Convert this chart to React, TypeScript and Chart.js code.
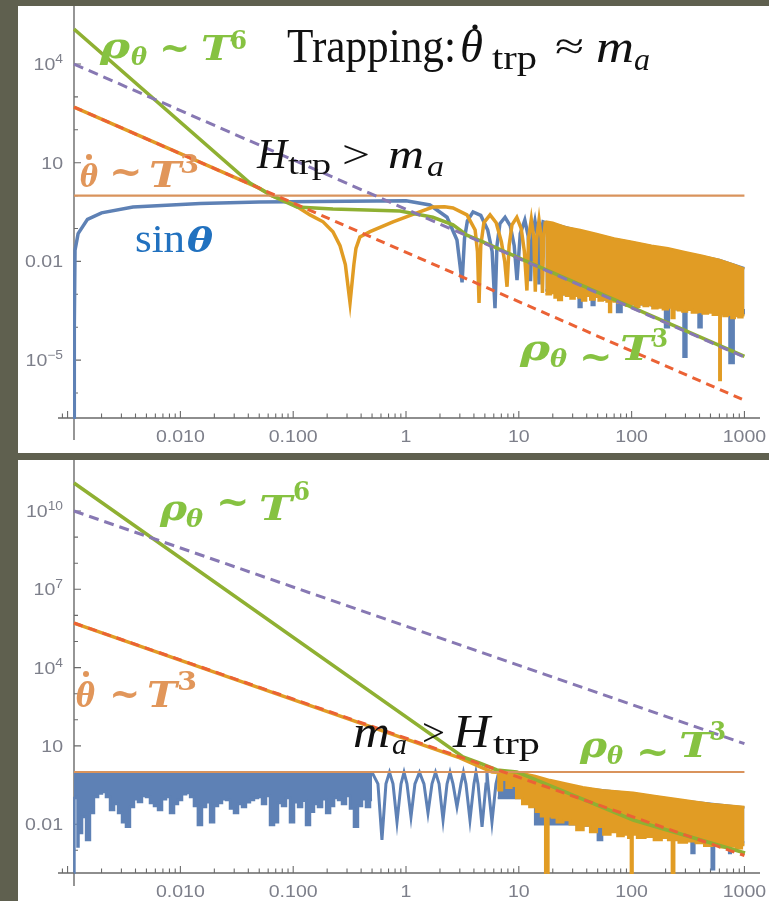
import React, { useEffect, useRef } from "react";
import { Chart, registerables } from "chart.js";

Chart.register(...registerables);

type Pt = [number, number];

// ================= axis ticks =================
const xTickValues = [0.01, 0.1, 1, 10, 100, 1000];
const xTickLabels = ["0.010", "0.100", "1", "10", "100", "1000"];

const topYTickValues = [1e4, 10, 0.01, 1e-5];
const topYTickBases = ["10", "10", "0.01", "10"];
const topYTickExps = ["4", "", "", "\u22125"];

const botYTickValues = [1e10, 1e7, 1e4, 10, 0.01];
const botYTickBases = ["10", "10", "10", "10", "0.01"];
const botYTickExps = ["10", "7", "4", "", ""];

// ================= TOP PANEL (H_trp > m_a) =================
const topUnity: Pt[] = [[0.00114, 1], [1000, 1]];
const topPurpleDashed: Pt[] = [[0.00114, 1.0e4], [1000, 1.23e-5]];
const topRedDashed: Pt[] = [[0.00114, 490], [1000, 6.0e-7]];
const topRho: Pt[] = [
  [0.00114, 1.15e5], [0.0414, 2.4], [0.0646, 1.0], [0.108, 0.45], [0.225, 0.39], [0.885, 0.34],
  [1.73, 0.22], [2.61, 0.13], [3.47, 0.063], [4.81, 0.039], [10, 0.0128], [100, 4.1e-4], [1000, 1.3e-5],
];
const topSinTheta: Pt[] = [
  [0.00114, 1.5e-7], [0.001147, 1e-4], [0.001164, 0.022], [0.00124, 0.07], [0.0015, 0.19], [0.002, 0.3],
  [0.0038, 0.45], [0.015, 0.58], [0.05, 0.64], [0.3, 0.68], [1.0, 0.7], [1.63, 0.52], [2.31, 0.22],
  [2.83, 0.045], [3.14, 0.0023], [3.3, 0.05], [3.5, 0.17], [3.93, 0.32], [4.6, 0.25], [5.3, 0.09],
  [5.8, 0.02], [6.15, 3.8e-4], [6.4, 0.03], [6.8, 0.14], [7.55, 0.22], [8.4, 0.12], [9.1, 0.03],
  [9.64, 2.7e-3], [10.3, 0.07], [11.3, 0.18], [12.1, 0.06], [12.7, 2.5e-3], [13.1, 0.06], [13.9, 0.17],
  [14.6, 0.06], [15.1, 2e-3], [15.6, 0.06], [16.4, 0.16], [17.2, 0.15],
];
const topSinBandUpper: Pt[] = [
  [17.2, 0.15], [20, 0.14], [35, 0.085], [70, 0.048], [150, 0.029], [300, 0.018], [600, 0.011], [1000, 0.0062],
];
const topSinBandLower: Pt[] = [
  [17.2, 1.3e-3], [20, 1.2e-3], [30, 1.0e-3], [33, 1e-3], [34.9, 4.1e-4], [37, 1e-3], [43, 9e-4],
  [45.6, 4.7e-4], [48, 9e-4], [70, 7e-4], [78.9, 2.9e-4], [84, 7e-4], [120, 5e-4], [190, 4.5e-4],
  [206, 1e-4], [222, 4.5e-4], [280, 3.5e-4], [297, 1.26e-5], [315, 3.5e-4], [380, 3e-4], [404, 1e-4],
  [430, 3e-4], [700, 2.5e-4], [776, 8.2e-6], [830, 2.5e-4], [940, 2.5e-4], [972, 3.3e-4], [1000, 2.5e-4],
];
const topThetaDot: Pt[] = [
  [0.00114, 490], [0.05, 1.69], [0.0646, 1.0], [0.1, 0.55], [0.141, 0.26], [0.184, 0.16], [0.225, 0.08],
  [0.26, 0.03], [0.29, 0.008], [0.319, 5.5e-4], [0.345, 0.008], [0.36, 0.025], [0.39, 0.055], [0.48, 0.08],
  [0.767, 0.16], [1.25, 0.3], [1.73, 0.45], [2.2, 0.46], [2.61, 0.42], [3.47, 0.26], [4.1, 0.09],
  [4.3, 0.02], [4.44, 5.5e-4], [4.6, 0.03], [4.9, 0.15], [5.56, 0.26], [6.3, 0.15], [7.0, 0.04],
  [7.5, 0.01], [7.86, 1.7e-3], [8.2, 0.03], [8.7, 0.13], [9.6, 0.22], [10.5, 0.1], [11.2, 0.02],
  [11.8, 1.3e-3], [12.2, 0.05], [12.9, 0.19], [13.6, 0.05], [14.0, 1.2e-3], [14.4, 0.05], [15.1, 0.18],
  [15.8, 0.05], [16.2, 1.1e-3], [16.6, 0.05], [17.2, 0.165],
];
const topDotBandUpper: Pt[] = [
  [17.2, 0.165], [20, 0.15], [26, 0.11], [35, 0.09], [48, 0.07], [70, 0.05], [100, 0.04],
  [150, 0.03], [210, 0.025], [300, 0.019], [420, 0.015], [600, 0.011], [800, 0.008], [1000, 0.0059],
];
const topDotBandLower: Pt[] = [
  [17.2, 1.0e-3], [18.5, 1.0e-3], [20, 1.1e-3], [21.5, 8e-4],
  [23.2, 6.7e-4], [25, 1.0e-3], [27.5, 9e-4], [30, 7.5e-4], [32.5, 9e-4], [35, 8e-4], [38, 6.5e-4],
  [41, 9e-4], [45, 7e-4], [49, 8.5e-4], [53, 6.5e-4], [58, 7e-4], [62, 6e-4], [64.4, 2.9e-4],
  [67, 6.5e-4], [72, 6e-4], [79, 5.5e-4], [86, 6e-4], [94, 4.5e-4], [103, 5e-4], [112, 4.2e-4],
  [122, 5e-4], [134, 4.4e-4], [146, 4.7e-4], [160, 3.8e-4], [179, 4e-4], [200, 3.5e-4], [220, 4e-4],
  [233, 1.9e-4], [246, 3.6e-4], [269, 3.3e-4], [295, 3.0e-4], [325, 3.4e-4], [360, 2.8e-4],
  [404, 2.9e-4], [450, 2.6e-4], [500, 2.8e-4], [550, 2.4e-4], [590, 2.6e-4], [608, 2.5e-6],
  [625, 2.5e-4], [680, 2.2e-4], [740, 2.4e-4], [793, 1.9e-4], [850, 2.2e-4], [920, 2.0e-4], [1000, 2.3e-4],
];

// ================= BOTTOM PANEL (m_a > H_trp) =================
const botUnity: Pt[] = [[0.00114, 1], [1000, 1]];
const botPurpleDashed: Pt[] = [[0.00114, 1.0e10], [1000, 12.2]];
const botRedDashed: Pt[] = [[0.00114, 5.1e5], [1000, 6.3e-4]];
const botRho: Pt[] = [
  [0.00114, 1.18e11], [3.2, 3.76], [4.53, 2.2], [6.4, 1.2], [9.6, 1.0], [103, 0.0145], [1012, 7.9e-4],
];
const botSinBandUpper: Pt[] = [[0.00114, 0.97], [0.5, 0.97]];
const botSinBandLower: Pt[] = [
  [0.00114, 1.4e-4], [0.00116, 0.1], [0.00121, 0.11], [0.00124, 0.0014], [0.00126, 0.03],
  [0.00129, 0.0046], [0.0014, 0.019], [0.00152, 0.0025], [0.00164, 0.027], [0.00179, 0.11],
  [0.00194, 0.15], [0.0021, 0.17], [0.00228, 0.11], [0.00248, 0.035], [0.00269, 0.06], [0.00292, 0.027],
  [0.00316, 0.012], [0.00343, 0.0079], [0.00372, 0.046], [0.00404, 0.09], [0.00438, 0.071],
  [0.00476, 0.12], [0.00516, 0.11], [0.0056, 0.065], [0.00608, 0.05], [0.0066, 0.035], [0.00716, 0.09],
  [0.00777, 0.11], [0.00843, 0.027], [0.00915, 0.06], [0.0099, 0.085], [0.0108, 0.14], [0.0117, 0.158],
  [0.0127, 0.11], [0.0137, 0.05], [0.0149, 0.0093], [0.0162, 0.046], [0.0176, 0.07], [0.0191, 0.012],
  [0.0207, 0.05], [0.0224, 0.065], [0.0244, 0.09], [0.0264, 0.085], [0.0287, 0.04], [0.0311, 0.027],
  [0.0338, 0.06], [0.0366, 0.046], [0.0397, 0.07], [0.0431, 0.085], [0.0468, 0.1], [0.0508, 0.11],
  [0.0551, 0.06], [0.0598, 0.12], [0.0649, 0.0093], [0.0704, 0.012], [0.0764, 0.065], [0.0829, 0.05],
  [0.0899, 0.1], [0.0976, 0.012], [0.106, 0.07], [0.115, 0.046], [0.125, 0.08], [0.135, 0.0093],
  [0.147, 0.03], [0.159, 0.06], [0.173, 0.046], [0.188, 0.09], [0.204, 0.027], [0.221, 0.05],
  [0.24, 0.1], [0.26, 0.085], [0.282, 0.06], [0.306, 0.12], [0.332, 0.04], [0.36, 0.0079],
  [0.391, 0.05], [0.424, 0.09], [0.46, 0.046], [0.5, 0.085],
];
const botSinCusps: Pt[] = [
  [0.5, 0.97], [0.564, 0.35], [0.612, 0.0025], [0.664, 0.35], [0.714, 0.97], [0.767, 0.35], [0.832, 0.012],
  [0.903, 0.35], [0.96, 0.97], [1.02, 0.35], [1.107, 0.019], [1.2, 0.35], [1.317, 0.97], [1.443, 0.35],
  [1.566, 0.027], [1.7, 0.35], [1.826, 0.97], [1.963, 0.35], [2.13, 0.0145], [2.31, 0.35], [2.455, 0.97],
  [2.61, 0.35], [2.83, 0.046], [3.07, 0.35], [3.23, 0.97], [3.4, 0.35], [3.69, 0.0145], [4.0, 0.35],
  [4.17, 0.97], [4.35, 0.35], [4.72, 0.0079], [5.12, 0.35], [5.22, 0.97], [5.33, 0.35], [5.78, 0.012],
  [6.27, 0.35], [6.6, 0.9],
];
const botSinRightUpper: Pt[] = [
  [6.5, 0.95], [10, 0.9], [18.9, 0.45], [37, 0.24], [103, 0.15], [285, 0.08], [1000, 0.044],
];
const botSinRightLower: Pt[] = [
  [6.5, 0.1], [30, 0.01], [48, 0.009], [52.5, 0.0025], [57, 0.009], [150, 0.005], [330, 0.003],
  [350, 7.9e-4], [370, 0.003], [500, 0.0025], [526, 1.9e-4], [550, 0.0025], [720, 0.002], [745, 7.9e-4],
  [770, 0.002], [1000, 0.002],
];
const botThetaDot: Pt[] = [[0.00114, 5.1e5], [3.0, 3.5], [4.5, 1.6], [5.8, 1.0], [6.4, 0.97]];
const botDotBandUpper: Pt[] = [
  [6.4, 0.97], [10, 0.95], [14, 0.7], [18.9, 0.49], [26, 0.36], [37, 0.26], [55, 0.2], [103, 0.16],
  [160, 0.12], [285, 0.085], [500, 0.06], [1000, 0.046],
];
const botDotBandLower: Pt[] = [
  [6.4, 0.9], [6.8, 0.2], [7.4, 0.5], [8.2, 0.25], [9, 0.3], [10, 0.1], [11.5, 0.06], [13.4, 0.046],
  [15, 0.03], [16.5, 0.02], [17.8, 1e-4], [18.8, 0.02], [20.5, 0.018], [23, 0.012], [26.7, 0.0145],
  [30, 0.01], [35, 0.006], [40, 0.009], [46, 0.005], [52.5, 0.0079], [60, 0.004], [70, 0.005],
  [80, 0.0035], [90, 0.004], [97, 0.003], [100, 1e-4], [104, 0.004], [120, 0.003], [146, 0.0033],
  [170, 0.0025], [200, 0.003], [222, 0.0025], [233, 1e-4], [244, 0.0025], [280, 0.002], [340, 0.0022],
  [404, 0.0019], [480, 0.0015], [560, 0.0018], [660, 0.0013], [793, 0.0014], [900, 0.0012], [1000, 0.0016],
];

// ================= styles =================
const BLUE = "#5e81b5";
const GOLD = "#e19c24";
const GREEN = "#8fb032";
const RED = "#eb6235";
const PURPLE = "#8778b3";
const UNITY = "#d9935c";
const AXIS = "#6a6a6a";
const TICKLABEL = "#7d7f8a";
const T_GREEN = "#86c241";
const T_ORANGE = "#e1965a";
const T_BLUE = "#2171bf";
const T_BLACK = "#111111";
const SERIF = '"Liberation Serif", "DejaVu Serif", serif';
const MATHB = '"DejaVu Serif", "Liberation Serif", serif';
const SANS = '"Liberation Sans", Arial, sans-serif';
const TILDE = "~";

type Run = { t: string; f: string; s: number; x: number; b: number; w: number; c: string; cy?: number; h?: number };
type Dot = { x: number; y: number; r: number; c: string };

const topTexts: Run[] = [
  { t: "\u03c1", f: "BI", s: 36, x: 100, b: 58, w: 30, c: T_GREEN },
  { t: "\u03b8", f: "BI", s: 24, x: 131, b: 65, w: 16, c: T_GREEN },
  { t: TILDE, f: "RB", s: 40, x: 163, b: 0, w: 24, c: T_GREEN, cy: 48, h: 9 },
  { t: "T", f: "BI", s: 34, x: 201, b: 60, w: 31, c: T_GREEN },
  { t: "6", f: "B", s: 26, x: 230, b: 49, w: 17, c: T_GREEN },

  { t: "Trapping:", f: "R", s: 48, x: 287, b: 62, w: 169, c: T_BLACK },
  { t: "\u03b8", f: "I", s: 46, x: 460, b: 62, w: 23, c: T_BLACK },
  { t: "trp", f: "R", s: 34, x: 492, b: 69, w: 45, c: T_BLACK },
  { t: "\u2248", f: "R", s: 38, x: 555, b: 59, w: 29, c: T_BLACK },
  { t: "m", f: "I", s: 46, x: 596, b: 62, w: 38, c: T_BLACK },
  { t: "a", f: "I", s: 32, x: 634, b: 70, w: 16, c: T_BLACK },

  { t: "H", f: "I", s: 42, x: 257, b: 168, w: 30, c: T_BLACK },
  { t: "trp", f: "R", s: 30, x: 288, b: 174, w: 43, c: T_BLACK },
  { t: ">", f: "R", s: 40, x: 342, b: 168, w: 28, c: T_BLACK },
  { t: "m", f: "I", s: 42, x: 388, b: 168, w: 36, c: T_BLACK },
  { t: "a", f: "I", s: 30, x: 427, b: 176, w: 17, c: T_BLACK },

  { t: "\u03b8", f: "BI", s: 32, x: 80, b: 187, w: 18, c: T_ORANGE },
  { t: TILDE, f: "RB", s: 40, x: 113, b: 0, w: 26, c: T_ORANGE, cy: 172, h: 9 },
  { t: "T", f: "BI", s: 36, x: 149, b: 187, w: 32, c: T_ORANGE },
  { t: "3", f: "B", s: 26, x: 180, b: 173, w: 19, c: T_ORANGE },

  { t: "sin", f: "R", s: 40, x: 135, b: 252, w: 50, c: T_BLUE },
  { t: "\u03b8", f: "BI", s: 34, x: 187, b: 252, w: 26, c: T_BLUE },

  { t: "\u03c1", f: "BI", s: 36, x: 520, b: 360, w: 30, c: T_GREEN },
  { t: "\u03b8", f: "BI", s: 24, x: 550, b: 367, w: 17, c: T_GREEN },
  { t: TILDE, f: "RB", s: 40, x: 583, b: 0, w: 26, c: T_GREEN, cy: 357, h: 9 },
  { t: "T", f: "BI", s: 34, x: 620, b: 360, w: 33, c: T_GREEN },
  { t: "3", f: "B", s: 26, x: 652, b: 347, w: 16, c: T_GREEN },
];
const topDots: Dot[] = [
  { x: 475, y: 27, r: 2.6, c: T_BLACK },
  { x: 89, y: 157, r: 3, c: T_ORANGE },
];

const botTexts: Run[] = [
  { t: "\u03c1", f: "BI", s: 36, x: 160, b: 520, w: 27, c: T_GREEN },
  { t: "\u03b8", f: "BI", s: 24, x: 186, b: 527, w: 17, c: T_GREEN },
  { t: TILDE, f: "RB", s: 40, x: 220, b: 0, w: 26, c: T_GREEN, cy: 502, h: 9 },
  { t: "T", f: "BI", s: 34, x: 259, b: 520, w: 33, c: T_GREEN },
  { t: "6", f: "B", s: 26, x: 293, b: 500, w: 17, c: T_GREEN },

  { t: "\u03b8", f: "BI", s: 34, x: 76, b: 707, w: 19, c: T_ORANGE },
  { t: TILDE, f: "RB", s: 40, x: 113, b: 0, w: 24, c: T_ORANGE, cy: 694, h: 9 },
  { t: "T", f: "BI", s: 36, x: 147, b: 707, w: 30, c: T_ORANGE },
  { t: "3", f: "B", s: 26, x: 177, b: 690, w: 20, c: T_ORANGE },

  { t: "m", f: "I", s: 46, x: 353, b: 747, w: 37, c: T_BLACK },
  { t: "a", f: "I", s: 30, x: 392, b: 754, w: 15, c: T_BLACK },
  { t: ">", f: "R", s: 40, x: 422, b: 746, w: 23, c: T_BLACK },
  { t: "H", f: "I", s: 46, x: 453, b: 747, w: 37, c: T_BLACK },
  { t: "trp", f: "R", s: 32, x: 493, b: 754, w: 47, c: T_BLACK },

  { t: "\u03c1", f: "BI", s: 36, x: 580, b: 757, w: 27, c: T_GREEN },
  { t: "\u03b8", f: "BI", s: 24, x: 607, b: 764, w: 16, c: T_GREEN },
  { t: TILDE, f: "RB", s: 40, x: 640, b: 0, w: 26, c: T_GREEN, cy: 752, h: 9 },
  { t: "T", f: "BI", s: 34, x: 679, b: 757, w: 33, c: T_GREEN },
  { t: "3", f: "B", s: 26, x: 710, b: 740, w: 16, c: T_GREEN },
];
const botDots: Dot[] = [{ x: 86, y: 674, r: 3, c: T_ORANGE }];

function fontFor(f: string, s: number) {
  if (f === "BI") return `italic bold ${s}px ${MATHB}`;
  if (f === "B") return `bold ${s}px ${MATHB}`;
  if (f === "RB") return `bold ${s}px ${MATHB}`;
  if (f === "I") return `italic ${s}px ${SERIF}`;
  return `${s}px ${SERIF}`;
}

const pts = (d: Pt[]) => d.map(([x, y]) => ({ x, y }));

function ds(data: Pt[], color: string, width: number, order: number, extra: any = {}) {
  return {
    data: pts(data),
    borderColor: color,
    backgroundColor: color,
    borderWidth: width,
    pointRadius: 0,
    tension: 0,
    fill: false,
    order,
    clip: 1,
    ...extra,
  };
}

interface PanelCfg {
  offX: number;
  offY: number;
  w: number;
  h: number;
  pad: { left: number; right: number; top: number; bottom: number };
  yMin: number;
  yMax: number;
  axisX: [number, number];
  axisY: [number, number];
  yTicks: number[];
  yBases: string[];
  yExps: string[];
  texts: Run[];
  dots: Dot[];
  datasets: any[];
}

const xMin = 0.00114;
const xMax = 1167;

const topCfg: PanelCfg = {
  offX: 18, offY: 6, w: 751, h: 447,
  pad: { left: 56, right: 17, top: 0, bottom: 35 },
  yMin: 1.74e-7, yMax: 5.8e5,
  axisX: [40, 742], axisY: [0, 434],
  yTicks: topYTickValues, yBases: topYTickBases, yExps: topYTickExps,
  texts: topTexts, dots: topDots,
  datasets: [
    ds(topSinBandUpper, BLUE, 2.5, 9),
    ds(topSinBandLower, BLUE, 2.5, 9, { fill: "-1", stepped: "middle" }),
    ds(topSinTheta, BLUE, 3.5, 8),
    ds(topDotBandUpper, GOLD, 2.5, 7),
    ds(topDotBandLower, GOLD, 2.5, 7, { fill: "-1", stepped: "middle" }),
    ds(topThetaDot, GOLD, 3.5, 6),
    ds(topRho, GREEN, 3.5, 5),
    ds(topUnity, UNITY, 2.2, 4),
    ds(topPurpleDashed, PURPLE, 3, 3, { borderDash: [10, 6] }),
    ds(topRedDashed, RED, 3, 2, { borderDash: [9, 6] }),
  ],
};

const botCfg: PanelCfg = {
  offX: 18, offY: 460, w: 751, h: 441,
  pad: { left: 56, right: 17, top: 0, bottom: 28 },
  yMin: 1.35e-4, yMax: 9.0e11,
  axisX: [40, 742], axisY: [0, 426],
  yTicks: botYTickValues, yBases: botYTickBases, yExps: botYTickExps,
  texts: botTexts, dots: botDots,
  datasets: [
    ds(botSinBandUpper, BLUE, 2.5, 9),
    ds(botSinBandLower, BLUE, 2.5, 9, { fill: "-1", stepped: "middle" }),
    ds(botSinCusps, BLUE, 3, 8),
    ds(botSinRightUpper, BLUE, 2.5, 9),
    ds(botSinRightLower, BLUE, 2.5, 9, { fill: "-1", stepped: "middle" }),
    ds(botDotBandUpper, GOLD, 2.5, 7),
    ds(botDotBandLower, GOLD, 2.5, 7, { fill: "-1", stepped: "middle" }),
    ds(botThetaDot, GOLD, 3.5, 6),
    ds(botRho, GREEN, 3.5, 5),
    ds(botUnity, UNITY, 2.2, 4),
    ds(botPurpleDashed, PURPLE, 3, 3, { borderDash: [10, 6] }),
    ds(botRedDashed, RED, 3, 2, { borderDash: [9, 6] }),
  ],
};

function drawAxes(chart: any, cfg: PanelCfg) {
  const { ctx, chartArea: a, scales } = chart;
  const xs = scales.x;
  const ys = scales.y;
  const y0 = a.bottom;
  const x0 = a.left;
  ctx.save();
  ctx.strokeStyle = AXIS;
  ctx.lineWidth = 1.4;
  ctx.beginPath();
  ctx.moveTo(cfg.axisX[0], y0);
  ctx.lineTo(cfg.axisX[1], y0);
  ctx.moveTo(x0, cfg.axisY[0]);
  ctx.lineTo(x0, cfg.axisY[1]);
  ctx.stroke();

  ctx.lineWidth = 1.1;
  ctx.beginPath();
  for (let e = -4; e <= 3; e++) {
    for (let m = 1; m <= 9; m++) {
      const v = m * Math.pow(10, e);
      const px = xs.getPixelForValue(v);
      if (px < cfg.axisX[0] + 2 || px > cfg.axisX[1] - 2) continue;
      const len = m === 1 ? 7 : 4.5;
      ctx.moveTo(px, y0);
      ctx.lineTo(px, y0 - len);
    }
  }
  const eLo = Math.ceil(Math.log10(cfg.yMin));
  const eHi = Math.floor(Math.log10(cfg.yMax));
  for (let e = eLo; e <= eHi; e++) {
    const v = Math.pow(10, e);
    const py = ys.getPixelForValue(v);
    if (py < cfg.axisY[0] + 2 || py > y0 - 2) continue;
    const labeled = cfg.yTicks.some((t) => Math.abs(Math.log10(t) - e) < 1e-6);
    ctx.moveTo(x0, py);
    ctx.lineTo(x0 + (labeled ? 7 : 4), py);
  }
  ctx.stroke();

  // tick labels
  ctx.fillStyle = TICKLABEL;
  ctx.textBaseline = "alphabetic";
  const sx = 1.15;
  xTickValues.forEach((v, i) => {
    const px = xs.getPixelForValue(v);
    ctx.save();
    ctx.translate(px, y0 + 24);
    ctx.scale(sx, 1);
    ctx.font = `17px ${SANS}`;
    ctx.textAlign = "center";
    ctx.fillText(xTickLabels[i], 0, 0);
    ctx.restore();
  });
  const right = x0 - 11;
  cfg.yTicks.forEach((v, i) => {
    const py = ys.getPixelForValue(v);
    const base = cfg.yBases[i];
    const exp = cfg.yExps[i];
    ctx.font = `17px ${SANS}`;
    const wb = ctx.measureText(base).width * sx;
    ctx.font = `12px ${SANS}`;
    const we = exp ? ctx.measureText(exp).width * sx : 0;
    const left = right - wb - we;
    ctx.save();
    ctx.translate(left, py + 6);
    ctx.scale(sx, 1);
    ctx.font = `17px ${SANS}`;
    ctx.textAlign = "left";
    ctx.fillText(base, 0, 0);
    ctx.restore();
    if (exp) {
      ctx.save();
      ctx.translate(left + wb, py - 1);
      ctx.scale(sx, 1);
      ctx.font = `12px ${SANS}`;
      ctx.textAlign = "left";
      ctx.fillText(exp, 0, 0);
      ctx.restore();
    }
  });
  ctx.restore();
}

function drawTexts(chart: any, cfg: PanelCfg) {
  const ctx = chart.ctx;
  ctx.save();
  ctx.textAlign = "left";
  ctx.textBaseline = "alphabetic";
  for (const r of cfg.texts) {
    ctx.font = fontFor(r.f, r.s);
    ctx.fillStyle = r.c;
    if (r.cy !== undefined && r.h !== undefined) {
      // glyph fitted into a box (width w, height h) centred on cy
      const mm = ctx.measureText(r.t);
      const asc = mm.actualBoundingBoxAscent;
      const desc = mm.actualBoundingBoxDescent;
      const left = mm.actualBoundingBoxLeft;
      const inkW = mm.actualBoundingBoxRight + left;
      const inkH = asc + desc;
      const sx = inkW > 0 ? r.w / inkW : 1;
      const sy = inkH > 0 ? r.h / inkH : 1;
      ctx.save();
      ctx.translate(r.x - cfg.offX, r.cy - cfg.offY);
      ctx.scale(sx, sy);
      ctx.fillText(r.t, left, (asc - desc) / 2);
      ctx.restore();
      continue;
    }
    const m = ctx.measureText(r.t).width;
    const sx = m > 0 ? r.w / m : 1;
    ctx.save();
    ctx.translate(r.x - cfg.offX, r.b - cfg.offY);
    ctx.scale(sx, 1);
    ctx.fillText(r.t, 0, 0);
    ctx.restore();
  }
  for (const d of cfg.dots) {
    ctx.beginPath();
    ctx.fillStyle = d.c;
    ctx.arc(d.x - cfg.offX, d.y - cfg.offY, d.r, 0, Math.PI * 2);
    ctx.fill();
  }
  ctx.restore();
}

function Panel({ cfg }: { cfg: PanelCfg }) {
  const ref = useRef<HTMLCanvasElement | null>(null);
  useEffect(() => {
    if (!ref.current) return;
    const chart = new Chart(ref.current, {
      type: "line",
      data: { datasets: cfg.datasets },
      options: {
        animation: false,
        responsive: false,
        devicePixelRatio: 1,
        events: [],
        layout: { padding: cfg.pad },
        plugins: { legend: { display: false }, tooltip: { enabled: false }, title: { display: false } },
        scales: {
          x: { type: "logarithmic", min: xMin, max: xMax, display: false, bounds: "data" },
          y: { type: "logarithmic", min: cfg.yMin, max: cfg.yMax, display: false, bounds: "data" },
        },
      } as any,
      plugins: [
        {
          id: "decor",
          beforeDatasetsDraw(c: any) {
            drawAxes(c, cfg);
          },
          afterDatasetsDraw(c: any) {
            drawTexts(c, cfg);
          },
        },
      ],
    });
    return () => chart.destroy();
  }, []);
  return (
    <div style={{ position: "absolute", left: cfg.offX, top: cfg.offY, width: cfg.w, height: cfg.h, background: "#ffffff" }}>
      <canvas ref={ref} width={cfg.w} height={cfg.h} style={{ display: "block", width: cfg.w, height: cfg.h }} />
    </div>
  );
}

export default function App() {
  return (
    <div style={{ position: "absolute", left: 0, top: 0, width: 769, height: 901, background: "#5f604f", overflow: "hidden" }}>
      <Panel cfg={topCfg} />
      <Panel cfg={botCfg} />
    </div>
  );
}
